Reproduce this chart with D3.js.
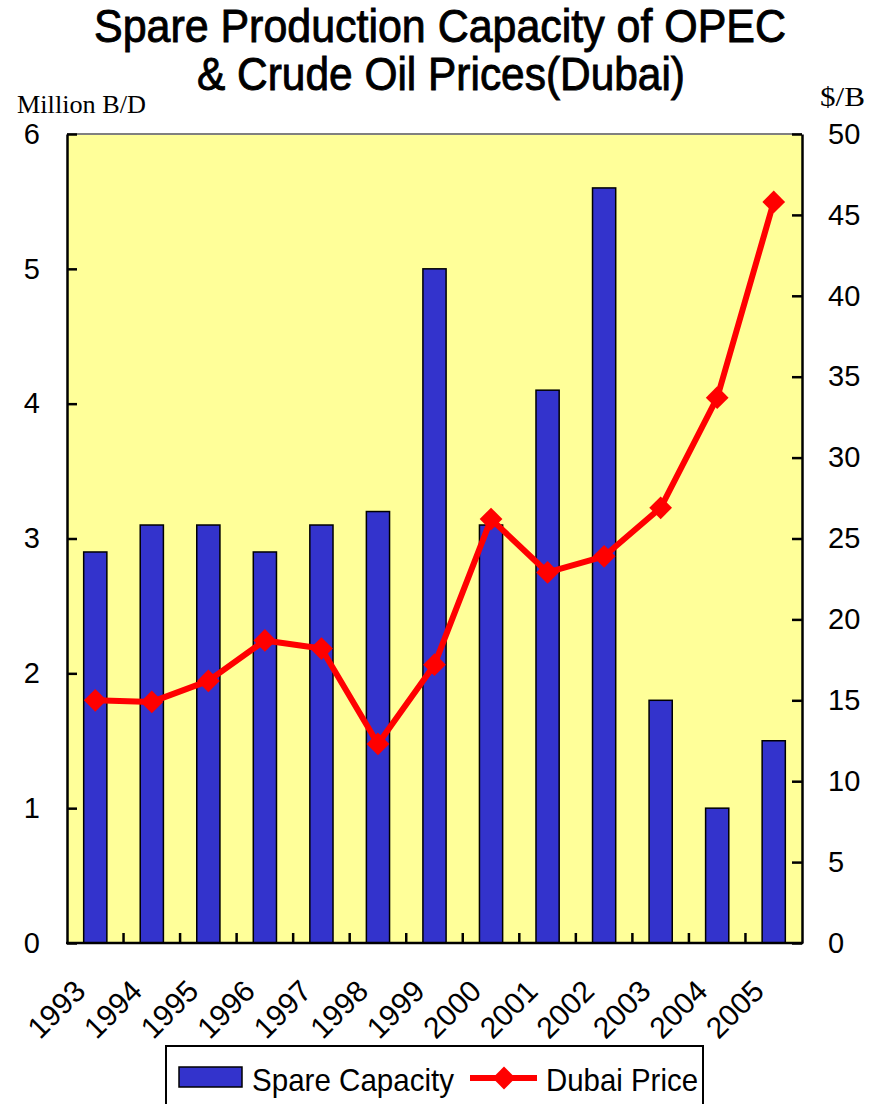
<!DOCTYPE html>
<html>
<head>
<meta charset="utf-8">
<script src="https://cdn.jsdelivr.net/npm/d3@7"></script>
<style>
  body { margin: 0; background: #fff; }
  text { font-family: "Liberation Sans", Arial, sans-serif; }
</style>
</head>
<body>
<svg id="chart" width="878" height="1104"></svg>
<script>
// chart data
const years = ['1993', '1994', '1995', '1996', '1997', '1998', '1999', '2000', '2001', '2002', '2003', '2004', '2005'];
const spareCapacity = [2.9, 3.1, 3.1, 2.9, 3.1, 3.2, 5.0, 3.1, 4.1, 5.6, 1.8, 1.0, 1.5];
const dubaiPrice = [15.0, 14.9, 16.2, 18.7, 18.2, 12.3, 17.2, 26.2, 22.9, 23.9, 26.9, 33.7, 45.8];
const leftTicks = [0, 1, 2, 3, 4, 5, 6];
const rightTicks = [0, 5, 10, 15, 20, 25, 30, 35, 40, 45, 50];

const svg = d3.select('#chart');
const plot = { left: 67, right: 802, top: 134, bottom: 943 };

const x = d3.scaleBand().domain(years).range([plot.left, plot.right]).paddingInner(0.59).paddingOuter(0.295);
const yLeft = d3.scaleLinear().domain([0, 6]).range([plot.bottom, plot.top]);
const yRight = d3.scaleLinear().domain([0, 50]).range([plot.bottom, plot.top]);

// Title
svg.append('text').attr('x', 440).attr('y', 42).attr('text-anchor', 'middle')
    .attr('font-size', 46).attr('stroke', '#000').attr('stroke-width', 0.9)
    .attr('textLength', 692).attr('lengthAdjust', 'spacingAndGlyphs')
    .text('Spare Production Capacity of OPEC');
svg.append('text').attr('x', 441).attr('y', 90).attr('text-anchor', 'middle')
    .attr('font-size', 46).attr('stroke', '#000').attr('stroke-width', 0.9)
    .attr('textLength', 488).attr('lengthAdjust', 'spacingAndGlyphs')
    .text('& Crude Oil Prices(Dubai)');

// Axis unit labels
svg.append('text').attr('x', 17).attr('y', 113)
    .style('font-family', '"Liberation Serif", "Times New Roman", serif')
    .attr('font-size', 25).attr('textLength', 129).attr('lengthAdjust', 'spacingAndGlyphs')
    .text('Million B/D');
svg.append('text').attr('x', 820).attr('y', 106)
    .style('font-family', '"Liberation Serif", "Times New Roman", serif')
    .attr('font-size', 27).attr('textLength', 45).attr('lengthAdjust', 'spacingAndGlyphs')
    .text('$/B');

// Plot background
svg.append('rect')
    .attr('x', plot.left).attr('y', plot.top)
    .attr('width', plot.right - plot.left).attr('height', plot.bottom - plot.top)
    .attr('fill', '#FFFF99');
svg.append('line')
    .attr('x1', plot.left).attr('x2', plot.right)
    .attr('y1', plot.top).attr('y2', plot.top)
    .attr('stroke', '#808080').attr('stroke-width', 2);

// Bars
svg.append('g').selectAll('rect')
    .data(spareCapacity)
    .join('rect')
    .attr('x', (d, i) => x(years[i]))
    .attr('y', d => yLeft(d))
    .attr('width', x.bandwidth())
    .attr('height', d => yLeft(0) - yLeft(d))
    .attr('fill', '#3333CC')
    .attr('stroke', '#000')
    .attr('stroke-width', 1.5);

// Left axis
const leftAxis = svg.append('g')
    .attr('transform', `translate(${plot.left},0)`)
    .call(d3.axisLeft(yLeft).tickValues(leftTicks).tickFormat(d3.format('d'))
        .tickSize(-10).tickPadding(27).tickSizeOuter(0));
// Right axis
const rightAxis = svg.append('g')
    .attr('transform', `translate(${plot.right},0)`)
    .call(d3.axisRight(yRight).tickValues(rightTicks).tickFormat(d3.format('d'))
        .tickSize(-10).tickPadding(26).tickSizeOuter(0));
[leftAxis, rightAxis].forEach(g => {
    g.attr('font-size', null).attr('font-family', null);
    g.select('.domain').attr('stroke', '#000').attr('stroke-width', 2.5);
    g.selectAll('.tick line').attr('stroke', '#000').attr('stroke-width', 2.5);
    g.selectAll('.tick text').style('font-size', '29px').attr('fill', '#000')
        .style('font-family', '"Liberation Sans", Arial, sans-serif');
});

// Bottom axis: ticks between categories pointing up
const step = x.step();
const xBoundaries = years.slice(1).map(y => x(y) - (step - x.bandwidth()) / 2);
svg.append('g').selectAll('line')
    .data(xBoundaries)
    .join('line')
    .attr('x1', d => d).attr('x2', d => d)
    .attr('y1', plot.bottom).attr('y2', plot.bottom - 10)
    .attr('stroke', '#000').attr('stroke-width', 2.5);
svg.append('line')
    .attr('x1', plot.left - 1).attr('x2', plot.right + 1)
    .attr('y1', plot.bottom).attr('y2', plot.bottom)
    .attr('stroke', '#000').attr('stroke-width', 2.5);

// Year labels
svg.append('g').selectAll('text')
    .data(years)
    .join('text')
    .attr('transform', d => `translate(${x(d) + x.bandwidth() / 2 - 8},${plot.bottom + 50}) rotate(-45)`)
    .attr('text-anchor', 'end')
    .style('font-size', '30px')
    .text(d => d);

// Price line
const line = d3.line()
    .x((d, i) => x(years[i]) + x.bandwidth() / 2)
    .y(d => yRight(d));
svg.append('path')
    .datum(dubaiPrice)
    .attr('d', line)
    .attr('fill', 'none')
    .attr('stroke', '#FF0000')
    .attr('stroke-width', 6)
    .attr('stroke-linejoin', 'round');

const diamond = d3.symbol().type(d3.symbolDiamond2).size(330);
svg.append('g').selectAll('path')
    .data(dubaiPrice)
    .join('path')
    .attr('transform', (d, i) => `translate(${x(years[i]) + x.bandwidth() / 2},${yRight(d)})`)
    .attr('d', diamond)
    .attr('fill', '#FF0000');

// Legend
const legend = svg.append('g');
legend.append('rect')
    .attr('x', 166).attr('y', 1046).attr('width', 537).attr('height', 70)
    .attr('fill', '#fff').attr('stroke', '#000').attr('stroke-width', 2);
legend.append('rect')
    .attr('x', 179).attr('y', 1067).attr('width', 63).attr('height', 20)
    .attr('fill', '#3333CC').attr('stroke', '#000').attr('stroke-width', 1.5);
legend.append('text').attr('x', 252).attr('y', 1091).style('font-size', '32px')
    .attr('textLength', 202).attr('lengthAdjust', 'spacingAndGlyphs')
    .text('Spare Capacity');
legend.append('line')
    .attr('x1', 470).attr('x2', 537).attr('y1', 1078).attr('y2', 1078)
    .attr('stroke', '#FF0000').attr('stroke-width', 6);
legend.append('path')
    .attr('transform', 'translate(504,1078)')
    .attr('d', diamond)
    .attr('fill', '#FF0000');
legend.append('text').attr('x', 546).attr('y', 1091).style('font-size', '32px')
    .attr('textLength', 152).attr('lengthAdjust', 'spacingAndGlyphs')
    .text('Dubai Price');
</script>
</body>
</html>
